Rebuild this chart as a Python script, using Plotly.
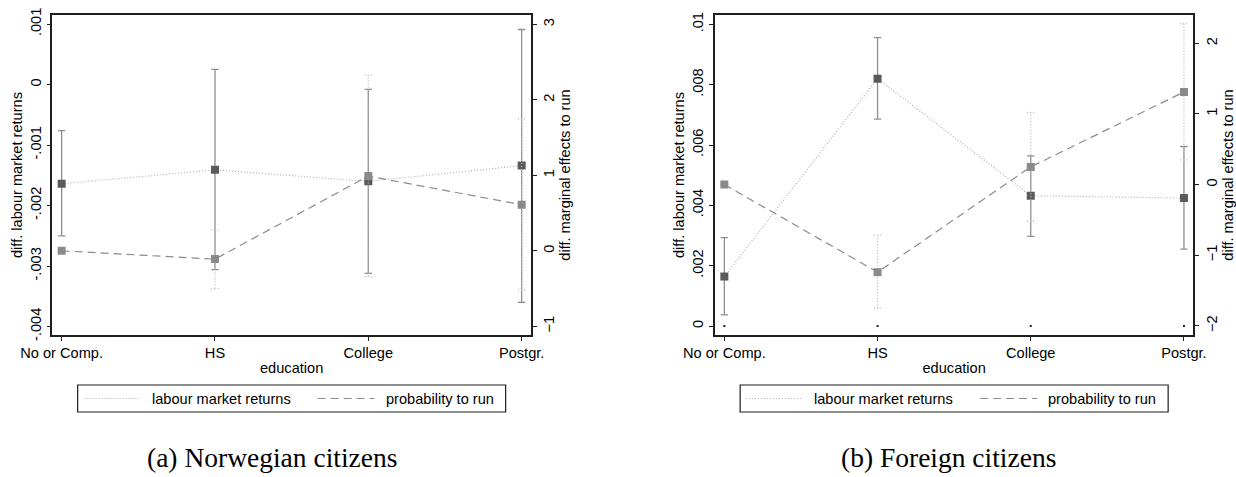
import plotly.graph_objects as go

W, H = 1236, 477

# ---------------- data ----------------
categories = ["No or Comp.", "HS", "College", "Postgr."]

# (a) Norwegian citizens
nor_lab = [-0.00164, -0.00141, -0.00160, -0.00134]
nor_lab_lo = [-0.00250, -0.00306, -0.00312, -0.00360]
nor_lab_hi = [-0.00076, 0.00025, -0.00008, 0.00091]
nor_run = [0.0, -0.11, 0.99, 0.61]
nor_run_lo = [None, -0.50, -0.34, -0.52]
nor_run_hi = [None, 0.27, 2.33, 1.75]

# (b) Foreign citizens
for_lab = [0.00164, 0.00820, 0.00432, 0.00424]
for_lab_lo = [0.00037, 0.00686, 0.00297, 0.00255]
for_lab_hi = [0.00293, 0.00956, 0.00564, 0.00595]
for_run = [0.0, -1.24, 0.25, 1.31]
for_run_lo = [None, -1.75, -0.52, 0.35]
for_run_hi = [None, -0.72, 1.02, 2.28]
for_base = [0.0, 0.0, 0.0, 0.0]

nor_left_ticks = [-0.004, -0.003, -0.002, -0.001, 0.0, 0.001]
nor_left_text = ["-.004", "-.003", "-.002", "-.001", "0", ".001"]
nor_right_ticks = [-1, 0, 1, 2, 3]
for_left_ticks = [0.0, 0.002, 0.004, 0.006, 0.008, 0.01]
for_left_text = ["0", ".002", ".004", ".006", ".008", ".01"]
for_right_ticks = [-2, -1, 0, 1, 2]

captions = ["(a) Norwegian citizens", "(b) Foreign citizens"]
legend_labels = ["labour market returns", "probability to run"]

# ---------------- style ----------------
FONT = "Liberation Sans"
FS = 14.6
DARK_MK = "#5a5a5a"
LIGHT_MK = "#8a8a8a"
CI_SOLID = "#8f8f8f"
CI_DOT = "#b8b8b8"
DOT_LINE = "#b0b0b0"
DASH_LINE = "#8c8c8c"
AX = "#1e1e1e"
DOT_PAT = "1px,2px"
DASH_PAT = "8px,5px"
CAP_HALF = 0.024

positions = list(range(len(categories)))


def fx(p):
    return p / W


def fy(p):
    return 1 - p / H


def ci_segments(pos, lo, hi, half):
    xs, ys = [], []
    for p, l, h in zip(pos, lo, hi):
        if l is None or h is None:
            continue
        xs += [p, p, None, p - half, p + half, None, p - half, p + half, None]
        ys += [l, h, None, l, l, None, h, h, None]
    return xs, ys


fig = go.Figure()

panels = [
    dict(lab=nor_lab, lab_lo=nor_lab_lo, lab_hi=nor_lab_hi,
         run=nor_run, run_lo=nor_run_lo, run_hi=nor_run_hi,
         xa="x", ya="y", ya2="y2", base=None,
         x0=52.3, x1=531.0, cap_cx=272),
    dict(lab=for_lab, lab_lo=for_lab_lo, lab_hi=for_lab_hi,
         run=for_run, run_lo=for_run_lo, run_hi=for_run_hi,
         xa="x2", ya="y3", ya2="y4", base=for_base,
         x0=715.0, x1=1193.3, cap_cx=948),
]

for pn in panels:
    # CI for labour market returns (solid caps)
    xs, ys = ci_segments(positions, pn["lab_lo"], pn["lab_hi"], CAP_HALF)
    fig.add_trace(go.Scatter(x=xs, y=ys, mode="lines", xaxis=pn["xa"], yaxis=pn["ya"],
                             line=dict(color=CI_SOLID, width=1.3), showlegend=False,
                             hoverinfo="skip"))
    # CI for probability to run (dotted caps)
    xs, ys = ci_segments(positions, pn["run_lo"], pn["run_hi"], CAP_HALF)
    fig.add_trace(go.Scatter(x=xs, y=ys, mode="lines", xaxis=pn["xa"], yaxis=pn["ya2"],
                             line=dict(color=CI_DOT, width=1.3, dash=DOT_PAT), showlegend=False,
                             hoverinfo="skip"))
    if pn["base"] is not None:
        fig.add_trace(go.Scatter(x=positions, y=pn["base"], mode="markers",
                                 xaxis=pn["xa"], yaxis=pn["ya"],
                                 marker=dict(color="#222222", size=2, symbol="square"),
                                 showlegend=False, hoverinfo="skip"))
    # labour market returns
    fig.add_trace(go.Scatter(x=positions, y=pn["lab"], mode="lines+markers",
                             xaxis=pn["xa"], yaxis=pn["ya"], name=legend_labels[0],
                             line=dict(color=DOT_LINE, width=1.2, dash=DOT_PAT),
                             marker=dict(color=DARK_MK, size=8, symbol="square"),
                             showlegend=False))
    # probability to run
    fig.add_trace(go.Scatter(x=positions, y=pn["run"], mode="lines+markers",
                             xaxis=pn["xa"], yaxis=pn["ya2"], name=legend_labels[1],
                             line=dict(color=DASH_LINE, width=1.2, dash=DASH_PAT),
                             marker=dict(color=LIGHT_MK, size=8, symbol="square"),
                             showlegend=False))

y_dom = [fy(335), fy(15)]
tickfont = dict(family=FONT, size=FS, color="black")
titlefont = dict(family=FONT, size=FS, color="black")

common_x = dict(range=[-0.061, 3.061], tickvals=positions, ticktext=categories,
                showline=True, linecolor=AX, linewidth=1.5, mirror=True,
                ticks="outside", ticklen=4, tickcolor=AX, tickwidth=1.2,
                showgrid=False, zeroline=False, tickfont=tickfont,
                title=dict(text="education", font=titlefont, standoff=3),
                automargin=False, fixedrange=True)
common_yl = dict(showline=True, linecolor=AX, linewidth=1.5, ticks="outside", ticklen=4,
                 tickcolor=AX, tickwidth=1.2, showgrid=False, zeroline=False,
                 tickfont=tickfont, tickangle=-90, automargin=False, domain=y_dom,
                 title=dict(text="diff. labour market returns", font=titlefont, standoff=2))
common_yr = dict(showline=True, linecolor=AX, linewidth=1.5, ticks="outside", ticklen=4,
                 tickcolor=AX, tickwidth=1.2, showgrid=False, zeroline=False,
                 tickfont=tickfont, tickangle=-90, automargin=False, side="right",
                 title=dict(text="diff. marginal effects to run", font=titlefont, standoff=3))

fig.update_layout(
    width=W, height=H,
    margin=dict(l=0, r=0, t=0, b=0),
    paper_bgcolor="white", plot_bgcolor="white",
    showlegend=False,
    xaxis=dict(domain=[fx(52.3), fx(531.0)], anchor="y", **common_x),
    yaxis=dict(anchor="x", range=[-0.00414, 0.00115], tickvals=nor_left_ticks,
               ticktext=nor_left_text, **common_yl),
    yaxis2=dict(anchor="x", overlaying="y", range=[-1.115, 3.123],
                tickvals=nor_right_ticks, **common_yr),
    xaxis2=dict(domain=[fx(715.0), fx(1193.3)], anchor="y3", **common_x),
    yaxis3=dict(anchor="x2", range=[-0.000298, 0.01031], tickvals=for_left_ticks,
                ticktext=for_left_text, **common_yl),
    yaxis4=dict(anchor="x2", overlaying="y3", range=[-2.13, 2.40],
                tickvals=for_right_ticks, **common_yr),
)

# manual legends + captions
shapes = []
annotations = []
for i, pn in enumerate(panels):
    cx = (pn["x0"] + pn["x1"]) / 2
    bl, br = cx - 214, cx + 214
    bt, bb = 385, 412
    ym = (bt + bb) / 2
    shapes.append(dict(type="rect", xref="paper", yref="paper",
                       x0=fx(bl), x1=fx(br), y0=fy(bb), y1=fy(bt),
                       line=dict(color=AX, width=1.2), fillcolor="white"))
    shapes.append(dict(type="line", xref="paper", yref="paper",
                       x0=fx(bl + 6), x1=fx(bl + 63), y0=fy(ym), y1=fy(ym),
                       line=dict(color=DOT_LINE, width=1.2, dash=DOT_PAT)))
    annotations.append(dict(text=legend_labels[0], xref="paper", yref="paper",
                            x=fx(bl + 72), y=fy(ym), xanchor="left", yanchor="middle",
                            showarrow=False, font=dict(family=FONT, size=FS, color="black")))
    shapes.append(dict(type="line", xref="paper", yref="paper",
                       x0=fx(bl + 240), x1=fx(bl + 297), y0=fy(ym), y1=fy(ym),
                       line=dict(color=DASH_LINE, width=1.2, dash=DASH_PAT)))
    annotations.append(dict(text=legend_labels[1], xref="paper", yref="paper",
                            x=fx(bl + 306), y=fy(ym), xanchor="left", yanchor="middle",
                            showarrow=False, font=dict(family=FONT, size=FS, color="black")))
    annotations.append(dict(text=captions[i], xref="paper", yref="paper",
                            x=fx(pn["cap_cx"]), y=fy(457), xanchor="center", yanchor="middle",
                            showarrow=False,
                            font=dict(family="Liberation Serif", size=27.5, color="black")))

fig.update_layout(shapes=shapes, annotations=annotations)

fig.write_html("out.html")
